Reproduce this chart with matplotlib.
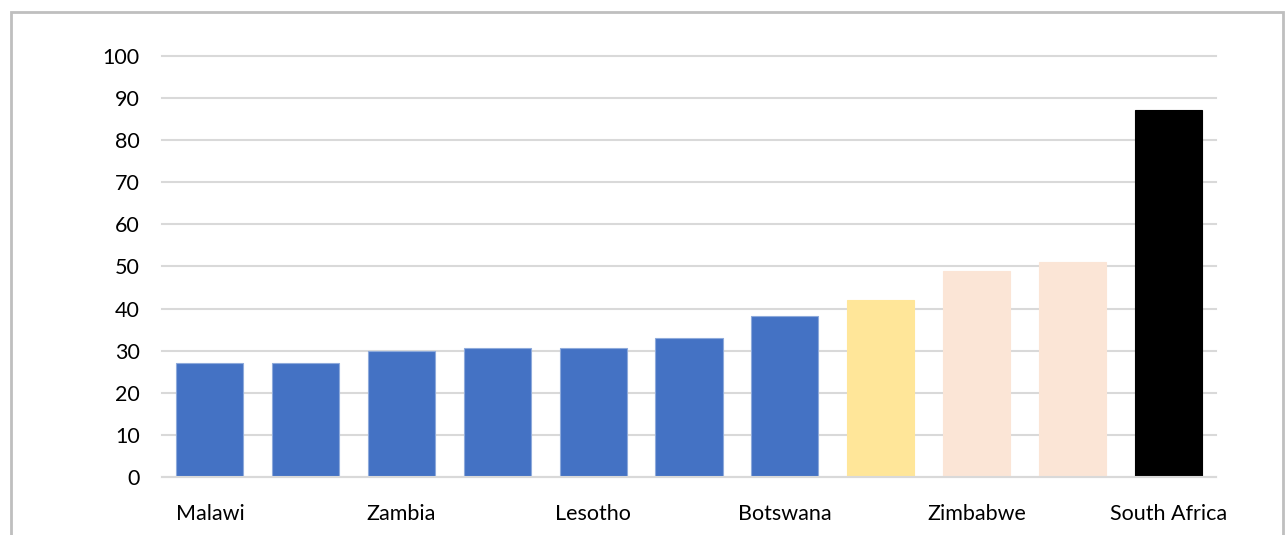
import matplotlib.pyplot as plt
from matplotlib.patches import Rectangle

# every other category is unlabelled on the axis
countries = ['Malawi', '', 'Zambia', '', 'Lesotho', '', 'Botswana', '', 'Zimbabwe', '', 'South Africa']
values = [27, 27, 30, 30.6, 30.6, 33, 38.2, 42, 49, 51, 87]
colors = ['#4472c4'] * 7 + ['#ffe699', '#fbe5d6', '#fbe5d6', '#000000']
edges = ['#8eaadb'] * 7 + ['#ffe699', '#fbe5d6', '#fbe5d6', '#000000']
yticks = list(range(0, 101, 10))

plt.rcParams['font.family'] = ['Lato', 'DejaVu Sans']

W, H = 1285, 535
fig = plt.figure(figsize=(W / 100, H / 100), dpi=100)
ax = fig.add_axes([162 / W, (H - 477.3) / H, 1054 / W, (477.3 - 55.5) / H])

x = range(len(values))
ax.bar(x, values, width=0.70, color=colors, edgecolor=edges, linewidth=0.8, zorder=3)

ax.set_xlim(-0.5, len(values) - 0.5)
ax.set_ylim(0, 100)
ax.set_yticks(yticks)
ax.set_yticklabels([str(t) for t in yticks], fontsize=15.5, color='#000000')
ax.set_xticks(list(x))
ax.set_xticklabels(countries, fontsize=15.5, color='#000000')
ax.tick_params(axis='both', length=0)
ax.tick_params(axis='y', pad=16)
ax.tick_params(axis='x', pad=19)

ax.grid(axis='y', color='#d9d9d9', linewidth=1.5, zorder=0)
for line in ax.yaxis.get_gridlines():
    line.set_clip_on(False)
for side in ['top', 'right', 'left']:
    ax.spines[side].set_visible(False)
ax.spines['bottom'].set_color('#d9d9d9')
ax.spines['bottom'].set_linewidth(1.5)
ax.spines['bottom'].set_zorder(4)

# outer chart frame
fig.patches.append(Rectangle((11 / W, -0.05), (W - 13) / W, (H - 12) / H + 0.05,
                             transform=fig.transFigure, fill=False,
                             edgecolor='#bfbfbf', linewidth=2))

fig.savefig('out.png', dpi=100)
